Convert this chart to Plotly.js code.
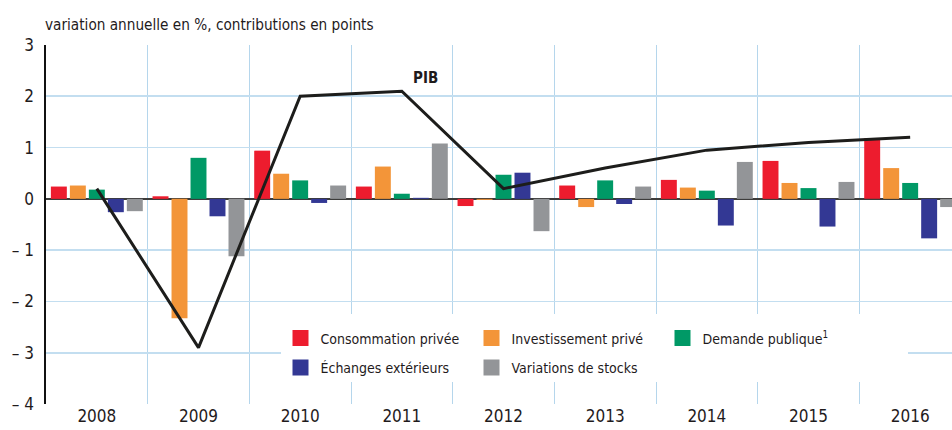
<!DOCTYPE html>
<html>
<head>
<meta charset="utf-8">
<script src="https://cdn.plot.ly/plotly-3.0.1.min.js"></script>
<style>
html,body{margin:0;padding:0;overflow:hidden;background:#fff;}
#chart{width:961px;height:430px;}
</style>
</head>
<body>
<div id="chart"></div>
<script>
// ---- data ----
const years = ['2008','2009','2010','2011','2012','2013','2014','2015','2016'];
const consommation = [0.24, 0.05, 0.94, 0.24, -0.14, 0.26, 0.37, 0.74, 1.18];
const investissement = [0.26, -2.33, 0.49, 0.63, -0.02, -0.16, 0.22, 0.31, 0.60];
const demandePublique = [0.18, 0.80, 0.36, 0.10, 0.47, 0.36, 0.16, 0.21, 0.31];
const echanges = [-0.26, -0.34, -0.08, 0.02, 0.51, -0.10, -0.52, -0.54, -0.77];
const stocks = [-0.24, -1.12, 0.26, 1.08, -0.63, 0.24, 0.72, 0.33, -0.16];
const pib = [0.2, -2.9, 2.0, 2.1, 0.2, 0.6, 0.95, 1.1, 1.2];
const seriesNames = ['Consommation privée', 'Investissement privé', 'Demande publique<sup>1</sup>', 'Échanges extérieurs', 'Variations de stocks'];
const yTickVals = [-4, -3, -2, -1, 0, 1, 2, 3];
const yTickText = ['\u2013 4', '\u2013 3', '\u2013 2', '\u2013 1', '0', '1', '2', '3'];
const titleText = 'variation annuelle en %, contributions en points';
const lineLabel = 'PIB';

// ---- styles ----
const FONT = "'Liberation Sans Narrow', 'Arial Narrow', 'DejaVu Sans Condensed', sans-serif";
const TXT = '#1f1b1c';
const colors = ['#ed1c2e', '#f39539', '#009966', '#333894', '#939598'];
const values = [consommation, investissement, demandePublique, echanges, stocks];
const legendOf = ['legend', 'legend', 'legend', 'legend2', 'legend2'];

const W = 961, H = 430, ML = 46, MR = 0, MT = 45, MB = 26;
const PW = W - ML - MR, PH = H - MT - MB;
const px2x = p => (p - ML) / PW;
const px2y = p => (H - MB - p) / PH;

const traces = [];
values.forEach((v, i) => {
  traces.push({
    type: 'bar', x: years, y: v, name: seriesNames[i],
    marker: {color: colors[i], line: {width: 0}},
    showlegend: false, hoverinfo: 'x+y'
  });
});
traces.push({
  type: 'scatter', mode: 'lines', x: years, y: pib, name: lineLabel,
  line: {color: '#1d1d1b', width: 3}, showlegend: false
});
// legend entries
values.forEach((v, i) => {
  traces.push({
    type: 'scatter', mode: 'markers', x: [null], y: [null], name: seriesNames[i],
    marker: {symbol: 'square', size: 17, color: colors[i]},
    legend: legendOf[i], showlegend: true, hoverinfo: 'skip'
  });
});

const legendCommon = {
  orientation: 'h', xanchor: 'left', yanchor: 'middle',
  x: px2x(280.5), bgcolor: 'rgba(0,0,0,0)', borderwidth: 0,
  entrywidth: 146, entrywidthmode: 'pixels',
  font: {family: FONT, size: 14, color: TXT}, traceorder: 'normal'
};

const layout = {
  width: W, height: H,
  margin: {l: ML, r: MR, t: MT, b: MB, pad: 0},
  paper_bgcolor: '#fff', plot_bgcolor: '#fff',
  font: {family: FONT, color: TXT},
  title: {text: titleText, x: 45 / W, xanchor: 'left', xref: 'container',
          y: 1 - 25 / H, yanchor: 'middle', yref: 'container',
          font: {family: FONT, size: 15.2, color: TXT}},
  barmode: 'group', bargap: 0.066, bargroupgap: 0.16,
  showlegend: true,
  legend: Object.assign({}, legendCommon, {y: px2y(338.5)}),
  legend2: Object.assign({}, legendCommon, {y: px2y(368)}),
  xaxis: {
    type: 'category', range: [-0.5, 8.5], tickson: 'boundaries',
    showgrid: true, gridcolor: '#b5d6ec', gridwidth: 1,
    ticks: '', showline: false, zeroline: false,
    tickfont: {family: FONT, size: 17, color: TXT}, fixedrange: true
  },
  yaxis: {
    range: [-4, 3], tickvals: yTickVals, ticktext: yTickText,
    showgrid: true, gridcolor: '#c3def0', gridwidth: 1.7,
    zeroline: true, zerolinecolor: '#3c3c3b', zerolinewidth: 2,
    showline: true, linecolor: '#111', linewidth: 2.5,
    ticks: '', ticklabelstandoff: 6,
    tickfont: {family: FONT, size: 17, color: TXT}, fixedrange: true
  },
  shapes: [{
    type: 'rect', xref: 'paper', yref: 'paper', layer: 'above',
    x0: px2x(281), x1: px2x(908), y0: px2y(382), y1: px2y(314),
    fillcolor: '#fff', line: {width: 0}
  }],
  annotations: [{
    text: '<b>' + lineLabel + '</b>', xref: 'x', yref: 'y', x: 3.23, y: 2.36,
    showarrow: false, font: {family: FONT, size: 15, color: TXT}
  }]
};

Plotly.newPlot('chart', traces, layout, {displayModeBar: false, staticPlot: true});
</script>
</body>
</html>
